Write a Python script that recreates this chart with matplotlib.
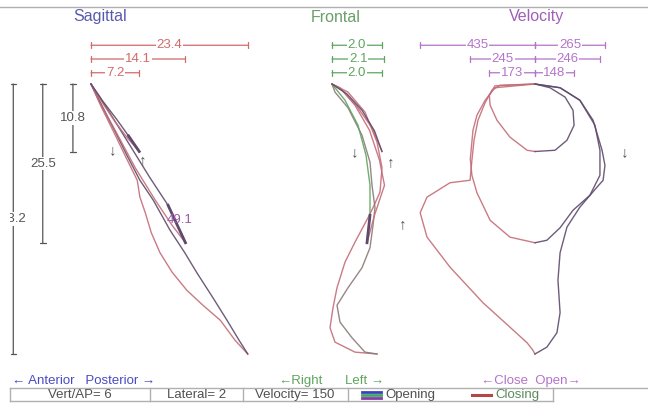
import matplotlib
matplotlib.use("Agg")
import matplotlib.pyplot as plt
from matplotlib.transforms import Bbox

plt.rcParams['font.family'] = ['Liberation Sans', 'DejaVu Sans']

# --- recorded jaw traces (mm, mm/s) ---------------------------------------
# sagittal: anterior-posterior (mm) vs vertical (mm, down positive)
sag_open_deep_x = [0, 1.8, 3.7, 5.5, 7.3, 9.3, 11.8, 14.0, 15.8, 18.2, 20.3, 22.1, 23.4]
sag_open_deep_y = [0, 3.8, 7.8, 11.7, 15.4, 18.6, 23.4, 27.0, 30.2, 34.2, 37.8, 41.0, 43.2]
sag_close_deep_x = [23.4, 21.5, 19.3, 16.7, 14.3, 12.1, 10.3, 9.0, 8.1, 7.3, 6.9, 5.2, 3.4, 1.6, 0]
sag_close_deep_y = [43.2, 41.0, 37.8, 35.4, 33.0, 30.1, 27.0, 23.8, 20.6, 18.1, 15.4, 11.7, 7.7, 3.8, 0]
sag_open_mid_x = [0, 2.8, 5.8, 8.8, 11.5, 14.1]
sag_open_mid_y = [0, 4.6, 9.8, 15.0, 19.4, 25.4]
sag_close_mid_x = [14.1, 12.1, 9.6, 6.6, 3.6, 1.3, 0]
sag_close_mid_y = [25.4, 22.6, 18.6, 13.4, 7.4, 3.0, 0]
sag_open_low_x = [0, 1.8, 3.8, 5.6, 7.2]
sag_open_low_y = [0, 2.8, 5.6, 8.3, 10.8]
sag_close_low_x = [7.2, 5.4, 3.5, 1.7, 0]
sag_close_low_y = [10.8, 8.6, 5.9, 3.0, 0]

# frontal: lateral (mm) vs vertical (mm)
fro_open_deep_x = [0, 0.12, 0.64, 1.2, 1.52, 1.6, 1.72, 1.64, 1.52, 1.2, 0.64, 0.2, 0.32, 0.8, 1.32, 1.8]
fro_open_deep_y = [0, 1.3, 3.8, 8.2, 12.5, 16.2, 19.8, 22.6, 26.2, 29.4, 32.6, 35.4, 38.1, 40.6, 42.9, 43.2]
fro_close_deep_x = [1.8, 0.92, 0.12, -0.08, 0.04, 0.2, 0.52, 0.92, 1.44, 1.64, 1.92, 2.0, 1.8, 1.32, 0.64, 0]
fro_close_deep_y = [43.2, 42.9, 41.3, 39.0, 35.8, 32.6, 28.5, 25.3, 21.4, 19.8, 17.3, 13.4, 9.3, 4.5, 1.3, 0]
fro_open_mid_x = [0, 0.52, 1.04, 1.36, 1.52, 1.52, 1.4]
fro_open_mid_y = [0, 2.6, 6.6, 11.4, 16.2, 21.0, 25.4]
fro_close_mid_x = [1.4, 1.7, 2.1, 1.9, 1.5, 0.92, 0.32, 0]
fro_close_mid_y = [25.4, 21.0, 16.2, 12.2, 7.4, 3.4, 0.6, 0]
fro_open_low_x = [0, 0.6, 1.2, 1.7, 2.0]
fro_open_low_y = [0, 1.6, 4.2, 7.5, 10.8]
fro_close_low_x = [2.0, 1.6, 1.0, 0.4, 0]
fro_close_low_y = [10.8, 7.0, 3.6, 1.0, 0]

# velocity: mm/s (open positive) vs vertical (mm)
vel_open_deep_x = [0, 95, 170, 220, 254, 265, 258, 235, 170, 121, 95, 87, 95, 83, 45, 0]
vel_open_deep_y = [0, 0.6, 2.6, 5.8, 10.6, 13.0, 15.4, 16.5, 19.7, 22.9, 27.0, 31.4, 36.6, 39.8, 42.1, 43.2]
vel_close_deep_x = [0, -8, -30, -95, -197, -322, -409, -435, -409, -322, -246, -239, -231, -216, -189, -163, -133, 0]
vel_close_deep_y = [43.2, 42.6, 41.4, 38.9, 35.0, 29.3, 24.5, 20.6, 18.1, 15.8, 15.4, 12.2, 9.0, 5.8, 3.0, 1.0, 0.2, 0]
vel_open_mid_x = [0, 95, 170, 227, 246, 246, 208, 144, 95, 45, 0]
vel_open_mid_y = [0, 0.6, 2.6, 6.6, 10.6, 14.6, 17.8, 20.2, 23.0, 25.0, 25.4]
vel_close_mid_x = [0, -95, -170, -220, -239, -245, -235, -220, -189, -152, 0]
vel_close_mid_y = [25.4, 24.5, 21.8, 17.4, 14.6, 12.0, 7.4, 5.0, 2.6, 0.6, 0]
vel_open_low_x = [0, 57, 114, 144, 148, 121, 76, 0]
vel_open_low_y = [0, 0.6, 2.1, 4.2, 6.6, 9.0, 10.6, 10.8]
vel_close_low_x = [0, -30, -95, -144, -170, -173, -152, 0]
vel_close_low_y = [10.8, 10.6, 8.5, 5.8, 3.4, 1.8, 0.3, 0]

# summary measurements (deep, mid, low)
vert_depths = [43.2, 25.5, 10.8]
ap_ranges = [23.4, 14.1, 7.2]
lat_ranges = [2.0, 2.1, 2.0]
vel_close_max = [435, 245, 173]
vel_open_max = [265, 246, 148]
sag_angle = "49.1"

status_cells = ["Vert/AP= 6", "Lateral= 2", "Velocity= 150"]

OPEN = "#5e4a6c"
CLOSE = "#c46d78"
GREEN = "#5fa560"
BAR_RED = "#d26a6a"
BAR_PURPLE = "#b474c8"
GREY = "#555555"

W, H = 648, 408
fig = plt.figure(figsize=(W / 100, H / 100), dpi=100)

base = fig.add_axes([0, 0, 1, 1])
base.set_xlim(0, W)
base.set_ylim(H, 0)
base.axis('off')


def panel(x0, y0, sx, sy):
    # overlay axes whose data units map onto the shared page
    ax = fig.add_axes([0, 0, 1, 1])
    ax.set_xlim(-x0 / sx, (W - x0) / sx)
    ax.set_ylim((H - y0) / sy, -y0 / sy)
    ax.axis('off')
    return ax


sag = panel(91, 84, 6.7, 6.25)
fro = panel(332, 84, 25.0, 6.25)
vel = panel(535, 84, 0.264, 6.25)

bar_rows = [-6.2, -4.0, -1.8]


def hbar(ax, x0, x1, y, label, color):
    ax.annotate('', xy=(x1, y), xytext=(x0, y),
                arrowprops=dict(arrowstyle='|-|,widthA=0.2,widthB=0.2',
                                color=color, lw=0.9, shrinkA=0, shrinkB=0))
    ax.text((x0 + x1) / 2, y, label, color=color, fontsize=9.5,
            ha='center', va='center',
            bbox=dict(facecolor='white', edgecolor='none', pad=0.6))


def arrow_mark(ax, x, y, glyph):
    ax.text(x, y, glyph, color=GREY, fontsize=11, ha='center', va='center')


# sagittal
for xs, ys, c in [(sag_close_deep_x, sag_close_deep_y, CLOSE),
                  (sag_open_deep_x, sag_open_deep_y, OPEN),
                  (sag_close_mid_x, sag_close_mid_y, CLOSE),
                  (sag_open_mid_x, sag_open_mid_y, OPEN),
                  (sag_close_low_x, sag_close_low_y, CLOSE),
                  (sag_open_low_x, sag_open_low_y, OPEN)]:
    sag.plot(xs, ys, color=c, lw=1.0, alpha=0.9)
for xs, ys in [(sag_open_mid_x, sag_open_mid_y), (sag_open_low_x, sag_open_low_y)]:
    sag.plot(xs[-2:], ys[-2:], color=OPEN, lw=2.0)
for v, row in zip(ap_ranges, bar_rows):
    hbar(sag, 0, v, row, f"{v:.1f}", BAR_RED)

clip = Bbox([[10, 0], [W, H]])
for d, bx in zip(vert_depths, [-11.6, -7.2, -2.7]):
    sag.annotate('', xy=(bx, d), xytext=(bx, 0),
                 arrowprops=dict(arrowstyle='|-|,widthA=0.2,widthB=0.2',
                                 color=GREY, lw=0.9, shrinkA=0, shrinkB=0))
    t = sag.text(bx, d / 2, f"{d:.1f}", color=GREY, fontsize=9.5,
                 ha='center', va='center',
                 bbox=dict(facecolor='white', edgecolor='none', pad=0.6))
    t.set_clip_box(clip)
    t.set_clip_on(True)
sag.text(13.3, 21.8, sag_angle, color="#9a5aa8", fontsize=9.5,
         ha='center', va='center')
arrow_mark(sag, 3.3, 10.6, '↓')
arrow_mark(sag, 7.8, 12.2, '↑')

# frontal
for xs, ys, c in [(fro_close_deep_x, fro_close_deep_y, CLOSE),
                  (fro_open_deep_x, fro_open_deep_y, "#8a7a78"),
                  (fro_close_mid_x, fro_close_mid_y, CLOSE),
                  (fro_open_mid_x, fro_open_mid_y, GREEN),
                  (fro_close_low_x, fro_close_low_y, CLOSE),
                  (fro_open_low_x, fro_open_low_y, OPEN)]:
    fro.plot(xs, ys, color=c, lw=1.0, alpha=0.9)
fro.plot(fro_open_mid_x[-2:], fro_open_mid_y[-2:], color=OPEN, lw=2.0)
for v, row in zip(lat_ranges, bar_rows):
    hbar(fro, 0, v, row, f"{v:.1f}", GREEN)
arrow_mark(fro, 0.92, 10.9, '↓')
arrow_mark(fro, 2.36, 12.5, '↑')

# velocity
for xs, ys, c in [(vel_close_deep_x, vel_close_deep_y, CLOSE),
                  (vel_open_deep_x, vel_open_deep_y, OPEN),
                  (vel_close_mid_x, vel_close_mid_y, CLOSE),
                  (vel_open_mid_x, vel_open_mid_y, OPEN),
                  (vel_close_low_x, vel_close_low_y, CLOSE),
                  (vel_open_low_x, vel_open_low_y, OPEN)]:
    vel.plot(xs, ys, color=c, lw=1.0, alpha=0.9)
for vc, vo, row in zip(vel_close_max, vel_open_max, bar_rows):
    hbar(vel, -vc, 0, row, f"{vc}", BAR_PURPLE)
    hbar(vel, 0, vo, row, f"{vo}", BAR_PURPLE)
arrow_mark(vel, 341, 10.9, '↓')
arrow_mark(vel, -500, 22.4, '↑')

# titles and direction labels
base.text(100, 17, "Sagittal", color="#5a5aac", fontsize=11.5, ha='center', va='center')
base.text(336, 17, "Frontal", color="#6a9e6a", fontsize=11.5, ha='center', va='center')
base.text(537, 17, "Velocity", color="#a060b8", fontsize=11.5, ha='center', va='center')
base.text(12, 381, "← Anterior   Posterior →", color="#4a4ac4", fontsize=9.5, va='center')
base.text(278, 381, "←Right", color=GREEN, fontsize=9.5, va='center')
base.text(345, 381, "Left →", color=GREEN, fontsize=9.5, va='center')
base.text(481, 381, "←Close  Open→", color=BAR_PURPLE, fontsize=9.5, va='center')

# frame and status row
base.plot([0, W], [7, 7], color="#b0b0b0", lw=1)
base.plot([10, W], [388, 388], color="#b0b0b0", lw=1)
base.plot([10, 553], [401, 401], color="#b0b0b0", lw=1)
for x in [10, 150, 243, 348, 553]:
    base.plot([x, x], [388, 401], color="#b0b0b0", lw=1)
for txt, cx in zip(status_cells, [80, 197, 295]):
    base.text(cx, 395, txt, color="#505050", fontsize=9.5, ha='center', va='center')
for yy, c in zip([391.5, 394.5, 397.5], ["#3a44b8", "#3fa868", "#8a3aa8"]):
    base.plot([362, 381], [yy, yy], color=c, lw=2)
base.text(385, 395, "Opening", color="#505050", fontsize=9.5, va='center')
base.plot([472, 491], [394.5, 394.5], color="#b04848", lw=2.2)
base.text(495, 395, "Closing", color="#5a8a5a", fontsize=9.5, va='center')

fig.savefig("out.png", dpi=100, facecolor='white')
